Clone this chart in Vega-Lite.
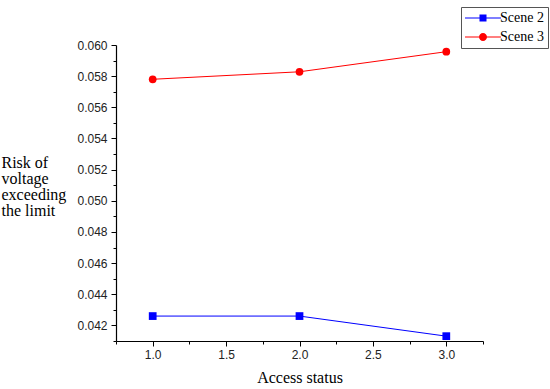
{
  "$schema": "https://vega.github.io/schema/vega-lite/v6.json",
  "autosize": {"type": "none"},
  "width": 367,
  "height": 296,
  "padding": {"left": 116, "top": 45, "right": 67, "bottom": 48},
  "background": "white",
  "config": {"view": {"stroke": null}},
  "data": {"values": [
    {"status": 1, "risk": 0.0426, "scene": "Scene 2"},
    {"status": 2, "risk": 0.0426, "scene": "Scene 2"},
    {"status": 3, "risk": 0.04131, "scene": "Scene 2"},
    {"status": 1, "risk": 0.0578, "scene": "Scene 3"},
    {"status": 2, "risk": 0.05828, "scene": "Scene 3"},
    {"status": 3, "risk": 0.05957, "scene": "Scene 3"}
  ]},
  "encoding": {
    "x": {
      "field": "status", "type": "quantitative",
      "scale": {"domain": [0.75, 3.25], "nice": false, "zero": false},
      "axis": {
        "title": "Access status",
        "titleFont": "Liberation Serif", "titleFontSize": 16, "titleFontWeight": "normal", "titleColor": "black",
        "titleBaseline": "alphabetic", "titleY": 41,
        "values": [0.75, 1, 1.25, 1.5, 1.75, 2, 2.25, 2.5, 2.75, 3, 3.25],
        "labelExpr": "(datum.value >= 1 && datum.value <= 3 && abs(datum.value*2 - round(datum.value*2)) < 0.001) ? format(datum.value, '.1f') : ''",
        "labelFont": "Liberation Sans", "labelFontSize": 12, "labelColor": "#222", "labelPadding": 3,
        "tickSize": {"condition": {"test": "abs(datum.value*2 - round(datum.value*2)) < 0.001", "value": 5}, "value": 3},
        "tickColor": "black", "domainColor": "black", "domainWidth": 1.2, "tickWidth": 1,
        "grid": false, "labelFlush": false, "labelOverlap": false
      }
    },
    "y": {
      "field": "risk", "type": "quantitative",
      "scale": {"domain": [0.041, 0.060], "nice": false, "zero": false},
      "axis": {
        "title": ["Risk of", "voltage", "exceeding", "the limit"],
        "titleFont": "Liberation Serif", "titleFontSize": 16, "titleFontWeight": "normal", "titleColor": "black",
        "titleAngle": 0, "titleAlign": "left", "titleBaseline": "alphabetic",
        "titleX": -115, "titleY": 122, "titleLineHeight": 16,
        "values": [0.041, 0.042, 0.043, 0.044, 0.045, 0.046, 0.047, 0.048, 0.049, 0.050, 0.051, 0.052, 0.053, 0.054, 0.055, 0.056, 0.057, 0.058, 0.059, 0.060],
        "labelExpr": "(round(datum.value*1000) % 2 == 0) ? format(datum.value, '.3f') : ''",
        "labelFont": "Liberation Sans", "labelFontSize": 12, "labelColor": "#222", "labelPadding": 4,
        "tickSize": {"condition": {"test": "round(datum.value*1000) % 2 == 0", "value": 5}, "value": 3},
        "tickColor": "black", "domainColor": "black", "domainWidth": 1.2, "tickWidth": 1,
        "grid": false, "labelFlush": false, "labelOverlap": false
      }
    },
    "color": {
      "field": "scene", "type": "nominal",
      "scale": {"domain": ["Scene 2", "Scene 3"], "range": ["#0000ff", "#ff0000"]},
      "legend": {
        "title": null, "orient": "none", "legendX": 345, "legendY": -38,
        "strokeColor": "#555", "fillColor": "white", "padding": 4,
        "labelFont": "Liberation Serif", "labelFontSize": 14, "labelColor": "black",
        "symbolSize": 100, "rowPadding": 5, "labelOffset": 21,
        "encode": {"symbols": {"update": {
          "shape": {"signal": "datum.value === 'Scene 2' ? 'M-1.4,-0.1H5.8V0.1H-1.4Z M1.5,-0.7H2.9V0.7H1.5Z' : 'M-1.4,-0.1H5.8V0.1H-1.4Z M3.0,0 A0.8,0.8 0 1,1 1.4,0 A0.8,0.8 0 1,1 3.0,0Z'"},
          "fill": {"signal": "datum.value === 'Scene 2' ? '#0000ff' : '#ff0000'"},
          "fillOpacity": {"value": 1},
          "strokeWidth": {"value": 0}
        }}}
      }
    }
  },
  "layer": [
    {"mark": {"type": "line", "strokeWidth": 1}},
    {"transform": [{"filter": "datum.scene === 'Scene 2'"}],
     "mark": {"type": "point", "filled": true, "opacity": 1, "size": 60, "shape": "square"}},
    {"transform": [{"filter": "datum.scene === 'Scene 3'"}],
     "mark": {"type": "point", "filled": true, "opacity": 1, "size": 60, "shape": "circle"}}
  ]
}
